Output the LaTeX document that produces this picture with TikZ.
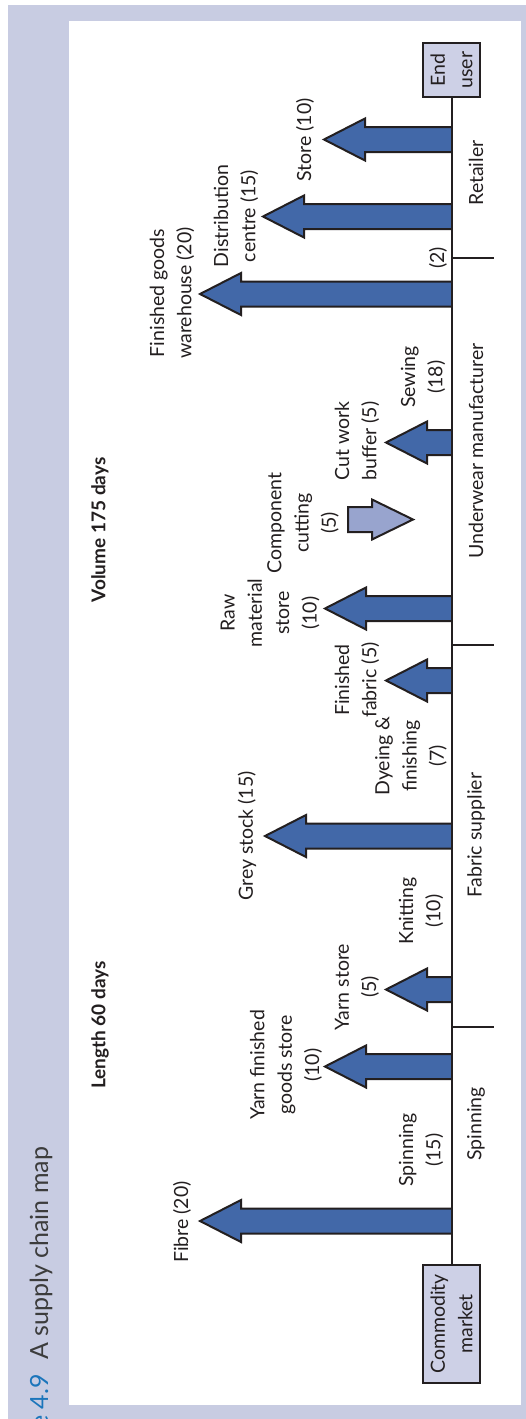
\documentclass[tikz,border=0pt]{standalone}
\usepackage{fontspec}
\setmainfont{Lato}
\definecolor{pagebg}{HTML}{C8CCE2}
\definecolor{boxfill}{HTML}{CDD0E6}
\definecolor{stockblue}{HTML}{4268A8}
\definecolor{stocklight}{HTML}{98A4CE}
\definecolor{ink}{HTML}{231F20}
\definecolor{titleblue}{HTML}{1B75BB}
\definecolor{titlegrey}{HTML}{3C3C3C}

% inventory arrow pointing away from the chain line: #2 = y centre, #3 = tip x
\newcommand\stockarrow[3][stockblue]{%
  \filldraw[fill=#1, draw=ink, line width=2pt, line join=miter]
    (452,#2-12.5) -- (#3+41,#2-12.5) -- (#3+41,#2-21) -- (#3,#2)
    -- (#3+41,#2+21) -- (#3+41,#2+12.5) -- (452,#2+12.5);}

\begin{document}
\begin{tikzpicture}[x=1pt,y=-1pt,
  lbl/.style={rotate=90, align=center, text=ink, inner sep=0pt,
    font=\fontsize{19.5}{27.3}\selectfont},
  headline/.style={rotate=90, text=ink, inner sep=0pt,
    font=\fontsize{19}{23}\selectfont\bfseries},
  endbox/.style={rotate=90, draw=ink, line width=1.5pt, fill=boxfill,
    align=center, text=ink, inner sep=0pt,
    font=\fontsize{19.5}{27.3}\selectfont},
  chain/.style={draw=ink, line width=2pt},
  tick/.style={draw=ink, line width=1.5pt}]
\useasboundingbox (0,0) rectangle (526,1419);
\clip (0,0) rectangle (526,1419);

% frame
\fill[pagebg] (8,5) rectangle (526,1419);
\fill[white] (69,21) rectangle (521,1405);

% caption
\node[rotate=90, anchor=base west, inner sep=0pt, text=titlegrey,
  font=\fontsize{25}{30}\selectfont] (title) at (48,1360) {A supply chain map};
\node[rotate=90, anchor=base east, inner sep=0pt, text=titleblue,
  font=\fontsize{25}{30}\selectfont] (fignum) at (48,1374) {Figure 4.9};

% headings
\node[headline] (length) at (100,1025) {Length 60 days};
\node[headline] (volume) at (100,530) {Volume 175 days};

% end points of the chain
\node[endbox, minimum width=54pt, minimum height=57pt] (eu) at (451.5,70) {End\\user};
\node[endbox, minimum width=118pt, minimum height=57pt] (cm) at (451.5,1324) {Commodity\\market};

% inventory arrows
\stockarrow{139.5}{324}
\stockarrow{216.5}{263}
\stockarrow{294}{200}
\stockarrow{442.5}{386}
\stockarrow{608.5}{325}
\stockarrow{680.5}{386}
\stockarrow{836}{265}
\stockarrow{989.5}{386}
\stockarrow{1066.5}{325}
\stockarrow{1221}{200}

% component cutting (process step, pointing towards the chain)
\filldraw[fill=stocklight, draw=ink, line width=2pt, line join=miter]
  (348,507) -- (372,507) -- (372,499.5) -- (413,519.5) -- (372,539.5)
  -- (372,532) -- (348,532) -- cycle;

% chain line and stage separators
\draw[chain] (eu.west) -- (cm.east);
\coordinate (s1) at (452,258);
\coordinate (s2) at (452,645);
\coordinate (s3) at (452,1027);
\draw[tick] (s1) -- ++(42,0);
\draw[tick] (s2) -- ++(42,0);
\draw[tick] (s3) -- ++(42,0);

% stage names
\node[lbl] (retailer) at (476,173) {Retailer};
\node[lbl] (manuf) at (476,451) {Underwear manufacturer};
\node[lbl] (fabsup) at (476,835) {Fabric supplier};
\node[lbl] (spinstage) at (476,1124) {Spinning};
\node[lbl] (two) at (438,258) {(2)};

% stock and process labels
\node[lbl] (lstore) at (305,140) {Store (10)};
\node[lbl] (ldist) at (236,216) {Distribution\\centre (15)};
\node[lbl] (lware) at (172,293) {Finished goods\\warehouse (20)};
\node[lbl] (lsew) at (423,377) {Sewing\\(18)};
\node[lbl] (lcut) at (357,441) {Cut work\\buffer (5)};
\node[lbl] (lcomp) at (303,523) {Component\\cutting\\(5)};
\node[lbl] (lraw) at (270,613) {Raw\\material\\store\\(10)};
\node[lbl] (lfab) at (357,680) {Finished\\fabric (5)};
\node[lbl] (ldye) at (411,756) {Dyeing \&\\finishing\\(7)};
\node[lbl] (lgrey) at (247,836) {Grey stock (15)};
\node[lbl] (lknit) at (421,911) {Knitting\\(10)};
\node[lbl] (lyarn) at (357,987) {Yarn store\\(5)};
\node[lbl] (lyfg) at (286,1065) {Yarn finished\\goods store\\(10)};
\node[lbl] (lspin) at (421,1150) {Spinning\\(15)};
\node[lbl] (lfibre) at (182,1222) {Fibre (20)};
\end{tikzpicture}
\end{document}
